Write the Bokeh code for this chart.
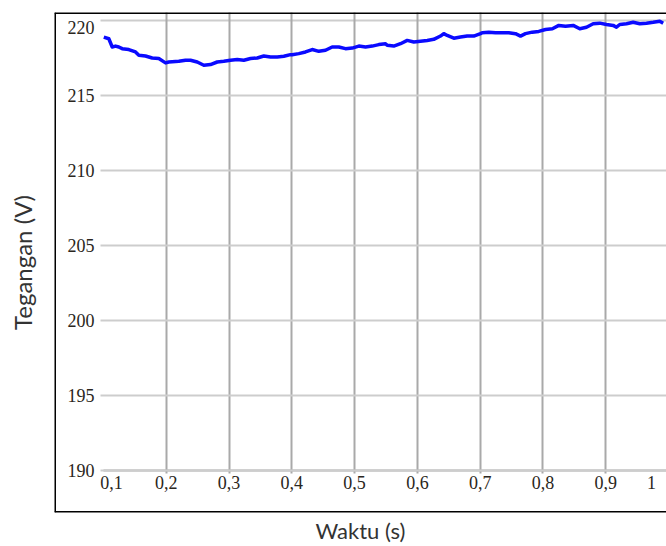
from bokeh.plotting import figure
from bokeh.models import Range1d, LinearAxis, FixedTicker, Span
from bokeh.embed import file_html
from bokeh.resources import INLINE

# ---- data ----
time_s = [0.1006, 0.1086, 0.1140, 0.1193, 0.1245, 0.1299, 0.1404, 0.1511, 0.1564, 0.1670,
          0.1777, 0.1882, 0.1989, 0.2041, 0.2201, 0.2307, 0.2387, 0.2494, 0.2599, 0.2705,
          0.2812, 0.2917, 0.3024, 0.3131, 0.3236, 0.3342, 0.3449, 0.3554, 0.3661, 0.3768,
          0.3873, 0.3979, 0.4006, 0.4111, 0.4218, 0.4325, 0.4430, 0.4537, 0.4643, 0.4748,
          0.4855, 0.4962, 0.5067, 0.5174, 0.5280, 0.5385, 0.5492, 0.5519, 0.5624, 0.5731,
          0.5838, 0.5943, 0.6049, 0.6156, 0.6261, 0.6368, 0.6420, 0.6475, 0.6580, 0.6686,
          0.6793, 0.6898, 0.7005, 0.7032, 0.7137, 0.7244, 0.7350, 0.7455, 0.7562, 0.7642,
          0.7721, 0.7828, 0.7933, 0.8040, 0.8150, 0.8252, 0.8358, 0.8481, 0.8586, 0.8693,
          0.8799, 0.8904, 0.9011, 0.9118, 0.9170, 0.9223, 0.9330, 0.9436, 0.9541, 0.9648,
          0.9755, 0.9860, 0.9914]
voltage_v = [218.86, 218.75, 218.20, 218.26, 218.20, 218.09, 218.03, 217.87, 217.65, 217.60,
             217.47, 217.43, 217.14, 217.20, 217.25, 217.32, 217.32, 217.20, 216.98, 217.03,
             217.20, 217.25, 217.32, 217.36, 217.32, 217.43, 217.47, 217.60, 217.53, 217.53,
             217.58, 217.69, 217.69, 217.76, 217.87, 218.03, 217.91, 217.98, 218.20, 218.20,
             218.09, 218.13, 218.26, 218.20, 218.26, 218.36, 218.42, 218.31, 218.26, 218.42,
             218.64, 218.53, 218.58, 218.64, 218.71, 218.93, 219.09, 218.97, 218.79, 218.86,
             218.93, 218.93, 219.09, 219.15, 219.19, 219.15, 219.15, 219.15, 219.09, 218.93,
             219.09, 219.19, 219.24, 219.37, 219.42, 219.64, 219.59, 219.64, 219.42, 219.52,
             219.75, 219.79, 219.70, 219.64, 219.52, 219.70, 219.75, 219.85, 219.75, 219.79,
             219.85, 219.92, 219.79]

# inner ticks (grid line + label at the same place)
x_ticks = [0.2, 0.3, 0.4, 0.5, 0.6, 0.7, 0.8, 0.9]
x_tick_text = ["0,2", "0,3", "0,4", "0,5", "0,6", "0,7", "0,8", "0,9"]
# edge labels, pulled inward by the original software
x_edge_pos = [0.113, 0.973]
x_edge_text = ["0,1", "1"]
y_ticks = [190, 195, 200, 205, 210, 215]
y_tick_text = ["190", "195", "200", "205", "210", "215"]
y_top = 220
y_edge_pos = [219.47]
y_edge_text = ["220"]

x_lo, x_hi = 0.0221, 0.9967
y_lo, y_hi = 187.17, 220.50
y_axis_at = 0.0954
x_axis_at = 190

p = figure(width=666, height=546, output_backend="svg", toolbar_location=None,
           x_range=Range1d(x_lo, x_hi), y_range=Range1d(y_lo, y_hi),
           x_axis_location=None, y_axis_location=None,
           min_border_left=54, min_border_right=0, min_border_top=12, min_border_bottom=31)
p.grid.visible = False
p.outline_line_color = None
p.background_fill_color = "white"
p.border_fill_color = "white"

GRID_H = "#cdcdcd"
GRID_V = "#a9a9a9"
LABEL_FONT = "Liberation Serif"
LABEL_COLOR = "#2a2620"
LABEL_SIZE = "18px"

# x axis at 190: its long ticks are the vertical grid lines
xa = LinearAxis(ticker=FixedTicker(ticks=x_ticks), fixed_location=x_axis_at, bounds=(0.1, 1.0),
                major_label_overrides=dict(zip(x_ticks, x_tick_text)),
                axis_line_color="#a8a8a8", axis_line_width=2,
                major_tick_line_color=GRID_V, major_tick_line_width=2,
                major_tick_in=462, major_tick_out=3, minor_tick_line_color=None,
                major_label_standoff=3,
                major_label_text_font=LABEL_FONT, major_label_text_font_size=LABEL_SIZE,
                major_label_text_color=LABEL_COLOR, level="underlay")
p.add_layout(xa, "below")

xe = LinearAxis(ticker=FixedTicker(ticks=x_edge_pos), fixed_location=x_axis_at,
                major_label_overrides=dict(zip(x_edge_pos, x_edge_text)),
                axis_line_color=None, major_tick_line_color=None, minor_tick_line_color=None,
                major_tick_in=0, major_tick_out=0, major_label_standoff=6,
                major_label_text_font=LABEL_FONT, major_label_text_font_size=LABEL_SIZE,
                major_label_text_color=LABEL_COLOR)
p.add_layout(xe, "below")

# y axis: its long ticks are the horizontal grid lines
ya = LinearAxis(ticker=FixedTicker(ticks=y_ticks), fixed_location=y_axis_at,
                major_label_overrides=dict(zip(y_ticks, y_tick_text)),
                axis_line_color=None,
                major_tick_line_color=GRID_H, major_tick_line_width=2,
                major_tick_in=600, major_tick_out=0, minor_tick_line_color=None,
                major_label_standoff=6,
                major_label_text_font=LABEL_FONT, major_label_text_font_size=LABEL_SIZE,
                major_label_text_color=LABEL_COLOR, level="underlay")
p.add_layout(ya, "left")

ye = LinearAxis(ticker=FixedTicker(ticks=y_edge_pos), fixed_location=y_axis_at,
                major_label_overrides=dict(zip(y_edge_pos, y_edge_text)),
                axis_line_color=None, major_tick_line_color=None, minor_tick_line_color=None,
                major_tick_in=0, major_tick_out=0, major_label_standoff=6,
                major_label_text_font=LABEL_FONT, major_label_text_font_size=LABEL_SIZE,
                major_label_text_color=LABEL_COLOR)
p.add_layout(ye, "left")

# top grid line (220): the line of a tick-less axis
yt_line = LinearAxis(ticker=FixedTicker(ticks=[]), fixed_location=y_top, bounds=(y_axis_at, x_hi),
                     axis_line_color=GRID_H, axis_line_width=2,
                     major_tick_line_color=None, minor_tick_line_color=None,
                     major_tick_in=0, major_tick_out=0, level="underlay")
p.add_layout(yt_line, "above")

# axis titles outside the box
TITLE_FONT = "Lato"
xt = LinearAxis(ticker=FixedTicker(ticks=[]), axis_label="Waktu (s)",
                axis_line_color=None, major_tick_line_color=None, minor_tick_line_color=None,
                major_tick_in=0, major_tick_out=0, major_label_standoff=0,
                axis_label_standoff=4, axis_label_text_font=TITLE_FONT,
                axis_label_text_font_size="22px", axis_label_text_font_style="normal",
                axis_label_text_color="#333333")
p.add_layout(xt, "below")

yt = LinearAxis(ticker=FixedTicker(ticks=[]), axis_label="Tegangan (V)",
                axis_line_color=None, major_tick_line_color=None, minor_tick_line_color=None,
                major_tick_in=0, major_tick_out=0, major_label_standoff=0,
                axis_label_standoff=18, axis_label_text_font=TITLE_FONT,
                axis_label_text_font_size="24px", axis_label_text_font_style="normal",
                axis_label_text_color="#333333")
p.add_layout(yt, "left")

# the black box (open on the right, as in the cropped reference)
for loc, dim in [(y_hi, "width"), (y_lo, "width"), (x_lo, "height")]:
    p.add_layout(Span(location=loc, dimension=dim, line_color="black", line_width=3))

p.line(time_s, voltage_v, line_color="#0a0aff", line_width=3.5, line_join="round")

open("out.html", "w").write(file_html(p, INLINE))
